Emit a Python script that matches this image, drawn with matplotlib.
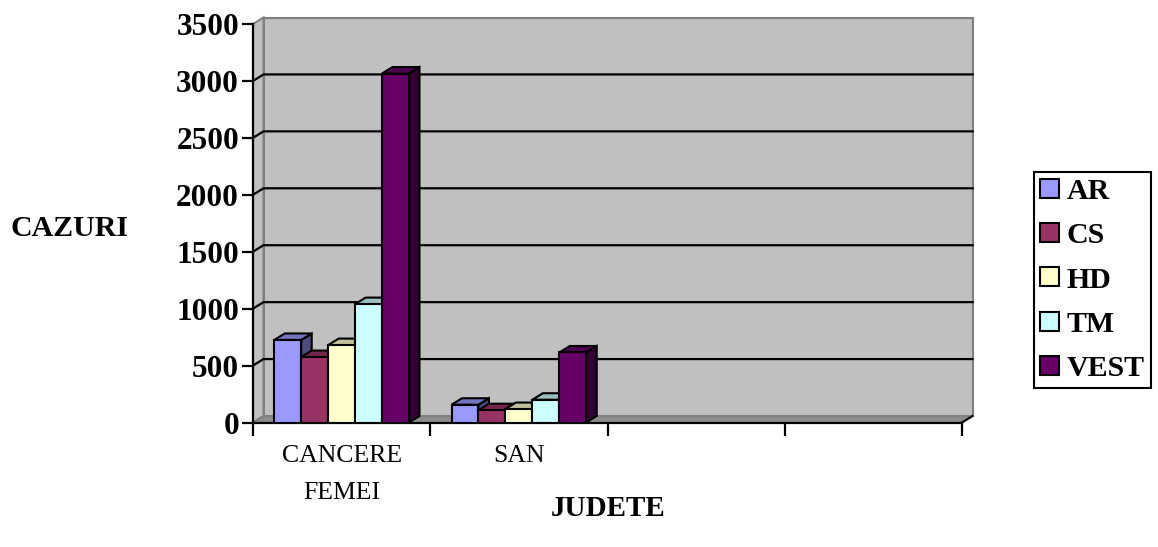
import matplotlib
matplotlib.use('Agg')
import matplotlib.pyplot as plt
from matplotlib.patches import Polygon
import numpy as np

plt.rcParams['font.family'] = ['Liberation Serif', 'DejaVu Serif']

# cazuri pe judete
categories = ['CANCERE\nFEMEI', 'SAN', '', '']
series = ['AR', 'CS', 'HD', 'TM', 'VEST']
values = {
    'AR':   [725, 156],
    'CS':   [575, 108],
    'HD':   [680, 118],
    'TM':   [1040, 200],
    'VEST': [3065, 615],
}
colors = ['#9999FF', '#993366', '#FFFFCC', '#CCFFFF', '#660066']
yticks = [0, 500, 1000, 1500, 2000, 2500, 3000, 3500]

W, H = 1158, 547
fig = plt.figure(figsize=(W / 100, H / 100), dpi=100)
ax_l, ax_r, ax_t, ax_b = 253, 962, 24, 422.5
ax = fig.add_axes([ax_l / W, 1 - ax_b / H, (ax_r - ax_l) / W, (ax_b - ax_t) / H])

ncat = len(categories)
ymax = 3500
ax.set_xlim(0, ncat)
ax.set_ylim(0, ymax)

# adancimea 3D in unitati de date
dx = 10.5 / (ax_r - ax_l) * ncat
dy = 6.5 / (ax_b - ax_t) * ymax

# pereti
back = Polygon([(dx, dy), (ncat + dx, dy), (ncat + dx, ymax + dy), (dx, ymax + dy)],
               closed=True, facecolor='#C0C0C0', edgecolor='#808080', lw=1.5,
               clip_on=False, zorder=0.5)
ax.add_patch(back)
side = Polygon([(0, 0), (dx, dy), (dx, ymax + dy), (0, ymax)], closed=True,
               facecolor='#C0C0C0', edgecolor='#808080', lw=1.5, clip_on=False, zorder=0.6)
ax.add_patch(side)
floor = Polygon([(0, 0), (ncat, 0), (ncat + dx, dy), (dx, dy)], closed=True,
                facecolor='#8C8C8C', edgecolor='#808080', lw=1.2, clip_on=False, zorder=0.7)
ax.add_patch(floor)
ax.plot([ncat, ncat + dx], [0, dy], color='black', lw=1.5, clip_on=False, zorder=0.8)

# linii de grila
for v in yticks[1:-1]:
    ax.plot([0, dx, ncat + dx], [v, v + dy, v + dy], color='black', lw=1.6,
            clip_on=False, zorder=0.9)

# bare
n = len(series)
w = 0.152
x = np.arange(2) + 0.5
handles = []
z = 2
for j, (name, c) in enumerate(zip(series, colors)):
    xs = x + (j - (n - 1) / 2) * w
    rgb = np.array(matplotlib.colors.to_rgb(c))
    for xc, h in zip(xs, values[name]):
        x0, x1 = xc - w / 2, xc + w / 2
        ax.add_patch(Polygon([(x1, 0), (x1 + dx, dy), (x1 + dx, h + dy), (x1, h)],
                             closed=True, facecolor=rgb * 0.5, edgecolor='black',
                             lw=1.5, zorder=z))
        ax.add_patch(Polygon([(x0, h), (x0 + dx, h + dy), (x1 + dx, h + dy), (x1, h)],
                             closed=True, facecolor=rgb * 0.75, edgecolor='black',
                             lw=1.5, zorder=z))
    b = ax.bar(xs, values[name], w, color=c, edgecolor='black', lw=1.5,
               label=name, zorder=z + 0.1)
    handles.append(b)
    z += 1

# axe
for s in ['top', 'right']:
    ax.spines[s].set_visible(False)
ax.spines['left'].set_linewidth(1.6)
ax.spines['bottom'].set_linewidth(1.6)
ax.spines['left'].set_zorder(1)
ax.spines['bottom'].set_zorder(1)
ax.patch.set_visible(False)

ax.set_yticks(yticks)
ax.set_yticklabels([str(v) for v in yticks], fontsize=22.5, fontweight='bold')
ax.tick_params(axis='y', length=8, width=1.6, pad=2)

ax.set_xticks(np.arange(ncat + 1), minor=True)
ax.set_xticks(np.arange(ncat) + 0.5)
ax.set_xticklabels(categories, fontsize=18.5, linespacing=1.9)
ax.tick_params(axis='x', which='major', length=0, pad=16)
ax.tick_params(axis='x', which='minor', length=9, width=1.6, direction='out')

fig.text(69 / W, 1 - 228 / H, 'CAZURI', ha='center', va='center',
         fontsize=21.5, fontweight='bold')
fig.text(608 / W, 1 - 508 / H, 'JUDETE', ha='center', va='center',
         fontsize=21, fontweight='bold')

leg = fig.legend(handles=handles, labels=series, loc='center left',
                 bbox_to_anchor=(1034 / W, 1 - 280 / H),
                 prop={'size': 21.5, 'weight': 'bold'},
                 handlelength=0.65, handleheight=0.6, handletextpad=0.25,
                 labelspacing=0.58, borderpad=0.2, borderaxespad=0,
                 fancybox=False, framealpha=1, edgecolor='black')
leg.get_frame().set_linewidth(1.5)

fig.savefig('out.png', dpi=100)
